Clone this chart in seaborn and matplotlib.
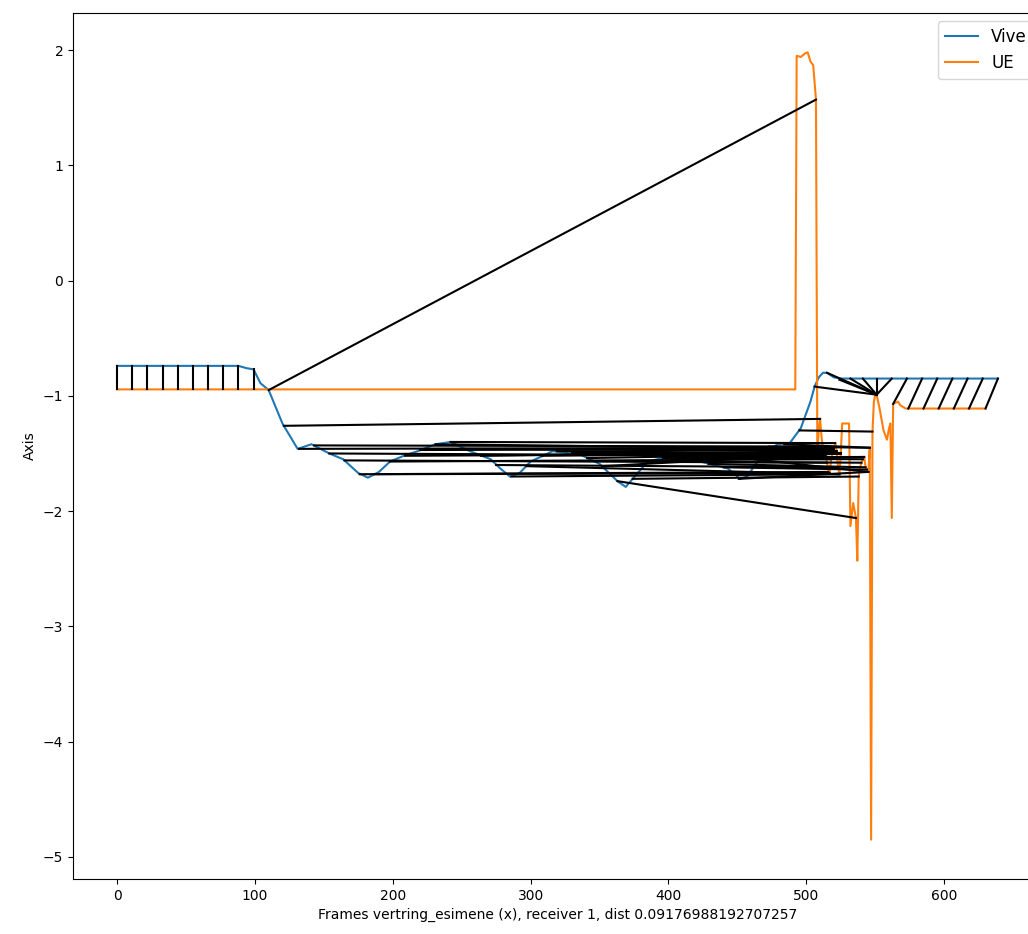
import matplotlib
matplotlib.use("Agg")
import matplotlib.pyplot as plt
import seaborn as sns

# ── Data ─────────────────────────────────────────────────────────────────────
vive_x = [0, 88, 94, 99, 104, 110, 120, 131, 141, 154, 164, 175, 182, 190, 198,
          208, 218, 231, 242, 256, 271, 278, 285, 292, 300, 316, 336, 350, 363,
          369, 374, 385, 399, 411, 423, 443, 452, 457, 467, 479, 488, 496, 503,
          506, 509, 512, 515, 520, 525, 639]
vive_y = [-0.74, -0.74, -0.76, -0.77, -0.89, -0.95, -1.24, -1.46, -1.42, -1.50,
          -1.55, -1.67, -1.71, -1.66, -1.57, -1.52, -1.48, -1.42, -1.40, -1.48,
          -1.55, -1.63, -1.70, -1.67, -1.57, -1.48, -1.51, -1.59, -1.74, -1.79,
          -1.72, -1.57, -1.53, -1.53, -1.57, -1.63, -1.72, -1.70, -1.53, -1.42,
          -1.41, -1.28, -1.05, -0.92, -0.84, -0.80, -0.80, -0.84, -0.85, -0.85]

ue_x = [0, 492, 493, 496, 499, 501, 503, 505, 506, 507, 508, 509, 510, 511, 512,
        513, 514, 515, 516, 517, 518, 519, 520, 521, 522, 523, 524, 525, 526,
        531, 532, 534, 536, 537, 538, 539, 540, 541, 542, 543, 544, 545, 546,
        547, 548, 549, 550, 551, 553, 556, 558.5, 560, 561, 562, 563, 566.5,
        568, 572, 630]
ue_y = [-0.944, -0.944, 1.95, 1.94, 1.97, 1.98, 1.90, 1.87, 1.72, 1.57, -1.50,
        -1.30, -1.20, -1.35, -1.45, -1.44, -1.52, -1.58, -1.66, -1.67, -1.55,
        -1.50, -1.46, -1.41, -1.48, -1.62, -1.68, -1.50, -1.24, -1.24, -2.13,
        -1.93, -2.06, -2.43, -1.70, -1.62, -1.58, -1.55, -1.53, -1.62, -1.64,
        -1.66, -1.45, -4.85, -1.31, -1.05, -0.99, -0.99, -1.10, -1.30, -1.38,
        -1.28, -1.24, -2.06, -1.07, -1.05, -1.08, -1.11, -1.11]

# warping-path links: Vive point -> UE point
link_vive_x = [0, 11, 22, 33, 44, 55, 66, 77, 88, 99, 110, 121, 132, 143, 154,
               165, 176, 187, 198, 209, 220, 231, 242, 253, 264, 275, 286, 297,
               308, 319, 330, 341, 352, 363, 374, 385, 396, 407, 418, 429, 440,
               451, 462, 473, 484, 495, 506, 515, 524, 532, 541, 551, 562, 573,
               584, 595, 606, 617, 628, 639]
link_vive_y = [-0.74, -0.74, -0.74, -0.74, -0.74, -0.74, -0.74, -0.74, -0.74,
               -0.77, -0.95, -1.26, -1.46, -1.43, -1.50, -1.56, -1.68, -1.68,
               -1.57, -1.52, -1.47, -1.42, -1.40, -1.46, -1.52, -1.60, -1.70,
               -1.61, -1.52, -1.48, -1.50, -1.54, -1.61, -1.74, -1.72, -1.57,
               -1.54, -1.53, -1.55, -1.59, -1.62, -1.72, -1.55, -1.44, -1.42,
               -1.30, -0.92, -0.80, -0.86, -0.85, -0.85, -0.85, -0.85, -0.85,
               -0.85, -0.85, -0.85, -0.85, -0.85, -0.85]
link_ue_x = [0, 11, 22, 33, 44, 55, 66, 77, 88, 99, 507, 510, 512, 513, 514,
             515, 516, 517, 518, 519, 520, 520, 521, 522, 522, 523, 524, 524,
             525, 525, 525, 525, 525, 536, 538, 540, 541, 542, 542, 543, 544,
             545, 545, 546, 546, 548, 551, 551, 551, 551, 551, 551, 551, 563,
             574, 585, 596, 607, 618, 630]
link_ue_y = [-0.944, -0.944, -0.944, -0.944, -0.944, -0.944, -0.944, -0.944,
             -0.944, -0.944, 1.57, -1.20, -1.45, -1.44, -1.52, -1.58, -1.66,
             -1.67, -1.55, -1.50, -1.46, -1.46, -1.41, -1.48, -1.48, -1.62,
             -1.68, -1.68, -1.50, -1.50, -1.50, -1.50, -1.50, -2.06, -1.70,
             -1.58, -1.55, -1.53, -1.53, -1.62, -1.64, -1.66, -1.66, -1.45,
             -1.45, -1.31, -0.99, -0.99, -0.99, -0.99, -0.99, -0.99, -0.99,
             -1.07, -1.11, -1.11, -1.11, -1.11, -1.11, -1.11]

# ── Plot ─────────────────────────────────────────────────────────────────────
fig = plt.figure(figsize=(10.28, 9.34), dpi=100)
ax = fig.add_axes([0.071, 0.0589, 0.9426, 0.9272])

sns.lineplot(x=vive_x, y=vive_y, ax=ax, color="#1f77b4", label="Vive",
             sort=False, estimator=None, linewidth=1.5)
sns.lineplot(x=ue_x, y=ue_y, ax=ax, color="#ff7f0e", label="UE",
             sort=False, estimator=None, linewidth=1.5)

for vx, vy, ux, uy in zip(link_vive_x, link_vive_y, link_ue_x, link_ue_y):
    ax.plot([vx, ux], [vy, uy], color="black", linewidth=1.5)

ax.set_xlabel("Frames vertring_esimene (x), receiver 1, dist 0.09176988192707257")
ax.set_ylabel("Axis")
ax.legend(loc="upper right", fontsize=12)

plt.savefig("out.png", dpi=100)
